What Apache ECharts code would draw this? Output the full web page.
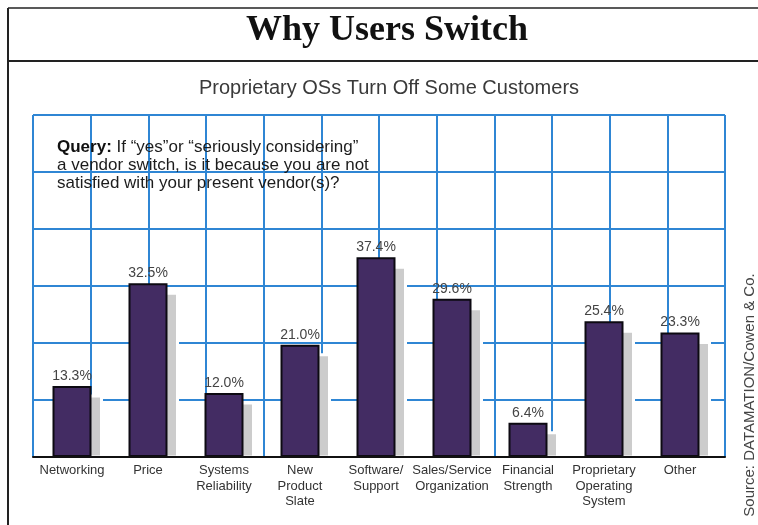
<!DOCTYPE html>
<html>
<head>
<meta charset="utf-8">
<script src="https://cdn.jsdelivr.net/npm/echarts@6/dist/echarts.min.js"></script>
<style>
  html, body { margin: 0; padding: 0; background: #ffffff; }
  #chart { width: 758px; height: 525px; }
</style>
</head>
<body>
<div id="chart"></div>
<script>
// Reasons given for a vendor switch (percent of respondents)
const categories = [
  'Networking', 'Price', 'Systems\nReliability', 'New\nProduct\nSlate',
  'Software/\nSupport', 'Sales/Service\nOrganization', 'Financial\nStrength',
  'Proprietary\nOperating\nSystem', 'Other'
];
const shares = [13.3, 32.5, 12.0, 21.0, 37.4, 29.6, 6.4, 25.4, 23.3];

const titleText = 'Why Users Switch';
const subtitleText = 'Proprietary OSs Turn Off Some Customers';
const queryLines = [
  '{b|Query:} If \u201cyes\u201dor \u201cseriously considering\u201d',
  'a vendor switch, is it because you are not',
  'satisfied with your present vendor(s)?'
];
const sourceText = 'Source: DATAMATION/Cowen & Co.';

const sans = '"Liberation Sans", Arial, Helvetica, sans-serif';
const serif = '"Liberation Serif", "Times New Roman", serif';
const gridBlue = '#2f86d4';
const barW = 39;
const shadowDx = 10, shadowDy = 10;

const chart = echarts.init(document.getElementById('chart'), null, { renderer: 'canvas' });

chart.setOption({
  backgroundColor: '#ffffff',
  animation: false,
  grid: [
    // decorative square grid
    { left: 33, right: 33, top: 115, bottom: 68 },
    // bars
    { left: 34, right: 40, top: 115, bottom: 68 }
  ],
  xAxis: [
    {
      type: 'value', gridIndex: 0, min: 0, max: 12, interval: 1, z: 0,
      axisLine: { show: false }, axisTick: { show: false }, axisLabel: { show: false },
      splitLine: { show: true, lineStyle: { color: gridBlue, width: 2 } }
    },
    {
      type: 'value', gridIndex: 0, min: 0, max: 12, interval: 1, z: 10, position: 'bottom',
      axisLine: { show: true, lineStyle: { color: '#111', width: 2 } },
      axisTick: { show: false }, axisLabel: { show: false }, splitLine: { show: false }
    },
    {
      type: 'category', gridIndex: 1, data: categories, z: 10,
      axisLine: { show: false }, axisTick: { show: false },
      axisLabel: {
        interval: 0, margin: 6, fontFamily: sans, fontSize: 13,
        lineHeight: 15.5, color: '#333', align: 'center'
      }
    }
  ],
  yAxis: [
    {
      type: 'value', gridIndex: 0, min: 0, max: 6, interval: 1, z: 0,
      axisLine: { show: false }, axisTick: { show: false }, axisLabel: { show: false },
      splitLine: { show: true, lineStyle: { color: gridBlue, width: 2 } }
    },
    {
      type: 'value', gridIndex: 1, min: 0, max: 64, show: false,
      splitLine: { show: false }
    }
  ],
  series: [
    {
      // offset drop shadow behind each bar
      type: 'custom',
      xAxisIndex: 2, yAxisIndex: 1, z: 1,
      data: shares.map((v, i) => [i, v]),
      renderItem: function (params, api) {
        const top = api.coord([api.value(0), api.value(1)]);
        const base = api.coord([api.value(0), 0]);
        return {
          type: 'rect',
          shape: {
            x: top[0] - barW / 2 + shadowDx,
            y: top[1] + shadowDy,
            width: barW,
            height: base[1] - top[1] - shadowDy
          },
          style: { fill: '#cccccc', stroke: '#ffffff', lineWidth: 3 }
        };
      }
    },
    {
      type: 'bar',
      xAxisIndex: 2, yAxisIndex: 1, z: 2,
      data: shares,
      barWidth: barW,
      itemStyle: { color: '#432c63', borderColor: '#0d0a12', borderWidth: 2 },
      label: {
        show: true, position: 'top', distance: 3,
        fontFamily: sans, fontSize: 14, color: '#444',
        formatter: p => p.value.toFixed(1) + '%'
      }
    }
  ],
  graphic: [
    // frame rules
    { type: 'line', shape: { x1: 8, y1: 8, x2: 758, y2: 8 }, style: { stroke: '#222', lineWidth: 1.5 } },
    { type: 'line', shape: { x1: 8, y1: 61, x2: 758, y2: 61 }, style: { stroke: '#222', lineWidth: 2 } },
    { type: 'line', shape: { x1: 8, y1: 8, x2: 8, y2: 525 }, style: { stroke: '#222', lineWidth: 2 } },
    {
      type: 'text', x: 387, y: 31, z: 20,
      style: {
        text: titleText, font: 'bold 36px ' + serif, fill: '#111',
        align: 'center', verticalAlign: 'middle'
      }
    },
    {
      type: 'text', x: 389, y: 88, z: 20,
      style: {
        text: subtitleText, font: '20px ' + sans, fill: '#3a3a3a',
        align: 'center', verticalAlign: 'middle'
      }
    },
    {
      type: 'text', x: 57, y: 138, z: 20,
      style: {
        text: queryLines.join('\n'),
        fontFamily: sans, fontSize: 17, lineHeight: 18, fill: '#1c1c1c',
        rich: { b: { fontFamily: sans, fontSize: 17, lineHeight: 18, fontWeight: 'bold', fill: '#111' } }
      }
    },
    {
      type: 'text', x: 750, y: 395, rotation: Math.PI / 2, z: 20,
      style: {
        text: sourceText, font: '15px ' + sans, fill: '#444',
        align: 'center', verticalAlign: 'middle'
      }
    }
  ]
});
</script>
</body>
</html>
